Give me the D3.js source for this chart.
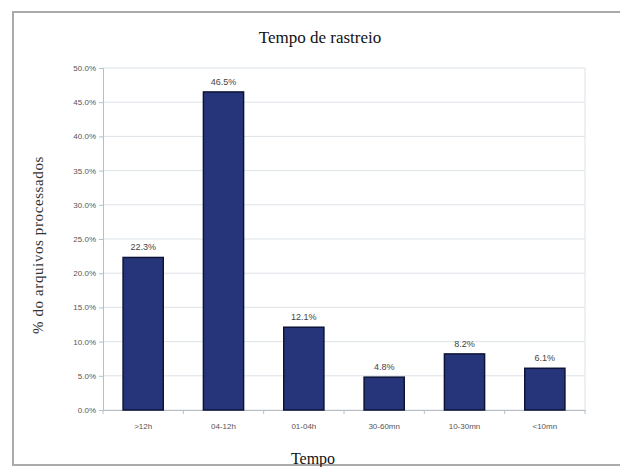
<!DOCTYPE html>
<html><head><meta charset="utf-8">
<script src="https://cdn.jsdelivr.net/npm/d3@7"></script>
<style>html,body{margin:0;padding:0;background:#fff;}svg{display:block;}</style>
</head><body>
<svg id="c" width="620" height="467"></svg>
<script>
const categories = [">12h", "04-12h", "01-04h", "30-60mn", "10-30mn", "<10mn"];
const values = [22.3, 46.5, 12.1, 4.8, 8.2, 6.1];
const yTicks = [0, 5, 10, 15, 20, 25, 30, 35, 40, 45, 50];
const title = "Tempo de rastreio";
const xTitle = "Tempo";
const yTitle = "% do arquivos processados";

const svg = d3.select("#c");
const m = {l: 103, r: 585, t: 68, b: 410};

svg.append("rect").attr("x", 13).attr("y", 12).attr("width", 620).attr("height", 453)
  .attr("fill", "#fff").attr("stroke", "#aaaaaa").attr("stroke-width", 2);

const x = d3.scaleBand().domain(categories).range([m.l, m.r]).paddingInner(0.5).paddingOuter(0.25);
const y = d3.scaleLinear().domain([0, 50]).range([m.b, m.t]);

// gridlines
svg.append("g").selectAll("line").data(yTicks).join("line")
  .attr("x1", m.l).attr("x2", m.r).attr("y1", d => y(d)).attr("y2", d => y(d))
  .attr("stroke", "#dde3e8").attr("stroke-width", 1);
svg.append("line").attr("x1", m.r).attr("x2", m.r).attr("y1", m.t).attr("y2", m.b)
  .attr("stroke", "#dde3e8");

// y axis
const ya = svg.append("g").attr("transform", `translate(${m.l},0)`)
  .call(d3.axisLeft(y).tickValues(yTicks).tickFormat(d => d.toFixed(1) + "%").tickSize(4).tickPadding(3));
ya.select(".domain").attr("stroke", "#b8bec4");
ya.selectAll(".tick line").attr("stroke", "#b8bec4");
ya.selectAll("text").attr("font-family", "Liberation Sans, Arial, sans-serif").attr("font-size", 8).attr("fill", "#555");

// x axis
const xa = svg.append("g").attr("transform", `translate(0,${m.b})`)
  .call(d3.axisBottom(x).tickSize(0).tickPadding(13));
xa.select(".domain").attr("stroke", "#b8bec4");
xa.selectAll("text").attr("font-family", "Liberation Sans, Arial, sans-serif").attr("font-size", 8).attr("fill", "#555");
// category separator ticks
svg.append("g").selectAll("line").data(d3.range(categories.length + 1)).join("line")
  .attr("x1", i => m.l + i * (m.r - m.l) / categories.length)
  .attr("x2", i => m.l + i * (m.r - m.l) / categories.length)
  .attr("y1", m.b).attr("y2", m.b + 4).attr("stroke", "#b8bec4");

// bars
svg.append("g").selectAll("rect").data(values).join("rect")
  .attr("x", (d, i) => x(categories[i])).attr("width", x.bandwidth())
  .attr("y", d => y(d)).attr("height", d => y(0) - y(d))
  .attr("fill", "#26357a").attr("stroke", "#0d1438").attr("stroke-width", 1.5);

// value labels
svg.append("g").selectAll("text").data(values).join("text")
  .attr("x", (d, i) => x(categories[i]) + x.bandwidth() / 2).attr("y", d => y(d) - 7)
  .attr("text-anchor", "middle").attr("font-family", "Liberation Sans, Arial, sans-serif")
  .attr("font-size", 9).attr("fill", "#444").text(d => d.toFixed(1) + "%");

// titles
svg.append("text").attr("x", 320).attr("y", 43).attr("text-anchor", "middle")
  .attr("font-family", "Liberation Serif, Times New Roman, serif").attr("font-size", 17).attr("fill", "#111").text(title);
svg.append("text").attr("x", 313).attr("y", 464).attr("text-anchor", "middle")
  .attr("font-family", "Liberation Serif, Times New Roman, serif").attr("font-size", 16).attr("fill", "#111").text(xTitle);
svg.append("text").attr("transform", "translate(43,245) rotate(-90)").attr("text-anchor", "middle")
  .attr("font-family", "Liberation Serif, Times New Roman, serif").attr("font-size", 15)
  .attr("letter-spacing", 0.6).attr("fill", "#333").text(yTitle);
</script>
</body></html>
